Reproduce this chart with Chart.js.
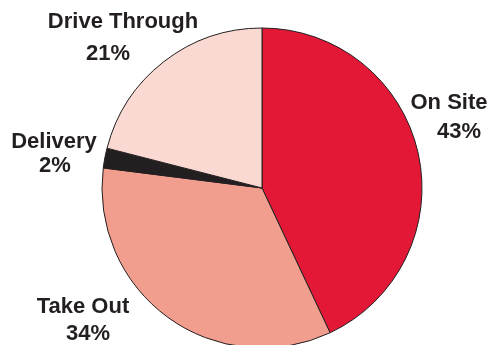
<!DOCTYPE html>
<html>
<head>
<meta charset="utf-8">
<script src="https://cdn.jsdelivr.net/npm/chart.js@4/dist/chart.umd.min.js"></script>
<style>
  html, body { margin: 0; padding: 0; background: #fff; overflow: hidden; }
  #wrap { width: 488px; height: 345px; overflow: hidden; }
</style>
</head>
<body>
<div id="wrap"><canvas id="pieChart" width="488" height="352"></canvas></div>
<script>
const categories = ['On Site', 'Take Out', 'Delivery', 'Drive Through'];
const shares = [43, 34, 2, 21];
const sliceColors = ['#E31837', '#F29E8E', '#231F20', '#F9D9D1'];

// where each two-line label sits: [x, baseline] for the name and for the percent
const labelSpots = [
  [[449, 109], [459, 138]],
  [[83, 313], [88, 340]],
  [[54, 148], [55, 172]],
  [[123, 28], [108, 60]],
];

const sliceLabels = {
  id: 'sliceLabels',
  afterDraw(chart) {
    const ctx = chart.ctx;
    ctx.save();
    ctx.fillStyle = '#231F20';
    ctx.font = 'bold 22px "Liberation Sans", Arial, sans-serif';
    ctx.textAlign = 'center';
    ctx.textBaseline = 'alphabetic';
    categories.forEach(function (name, i) {
      const spot = labelSpots[i];
      ctx.fillText(name, spot[0][0], spot[0][1]);
      ctx.fillText(shares[i] + '%', spot[1][0], spot[1][1]);
    });
    ctx.restore();
  },
};

const ctx = document.getElementById('pieChart').getContext('2d');

const chart = new Chart(ctx, {
  type: 'pie',
  data: {
    labels: categories,
    datasets: [
      {
        data: shares,
        backgroundColor: sliceColors,
        borderColor: '#231F20',
        borderWidth: 1,
      },
    ],
  },
  options: {
    responsive: false,
    animation: false,
    layout: {
      padding: { left: 101.5, right: 65.5, top: 27.5, bottom: 3.5 },
    },
    plugins: {
      legend: { display: false },
      tooltip: { enabled: false },
    },
  },
  plugins: [sliceLabels],
});
</script>
</body>
</html>
